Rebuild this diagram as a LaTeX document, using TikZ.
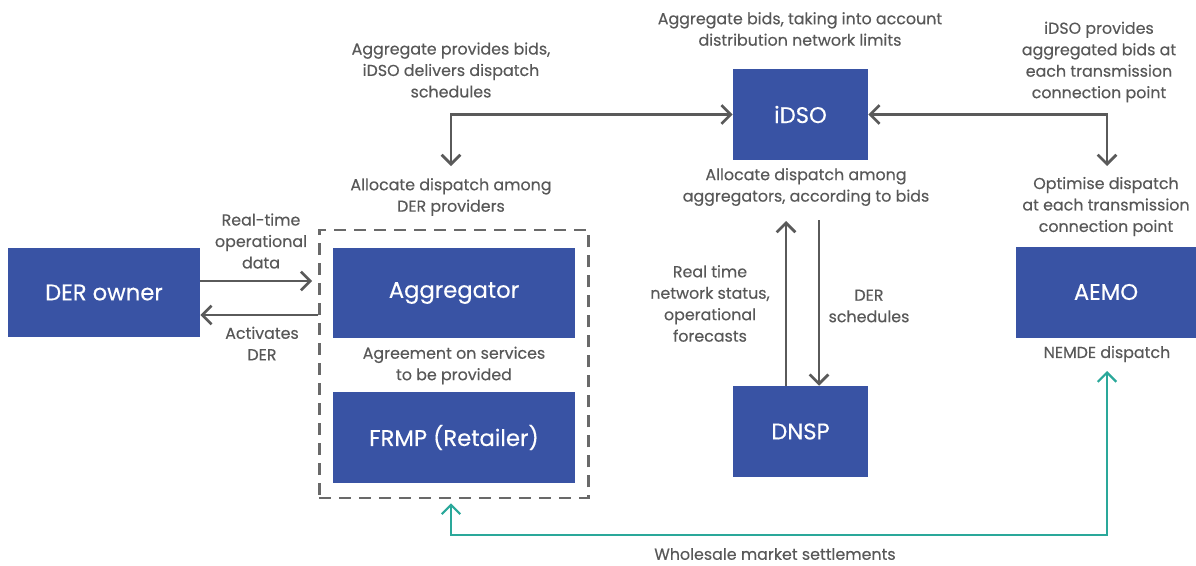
\documentclass[tikz,border=0pt]{standalone}
\usepackage{fontspec}
\setmainfont{Poppins}
\newfontfamily\lblfont[FakeBold=0.35]{Poppins}
\usetikzlibrary{arrows.meta,calc}
\definecolor{boxblue}{RGB}{57,83,164}
\definecolor{txtgray}{RGB}{88,88,88}
\definecolor{linegray}{RGB}{90,90,90}
\definecolor{dashgray}{RGB}{105,105,105}
\definecolor{tealc}{RGB}{42,168,154}
\begin{document}
\begin{tikzpicture}[x=0.75pt,y=-0.75pt,
  box/.style={fill=boxblue,draw=none,text=white,inner sep=0pt,
    font=\lblfont\fontsize{17}{20}\selectfont},
  lbl/.style={text=txtgray,align=center,inner sep=0pt,
    font=\lblfont\fontsize{11.9}{16.1}\selectfont},
  arr/.style={draw=linegray,line width=2pt,
    arrows={-Straight Barb[length=7pt,width=14pt,line width=2pt]}},
  arrboth/.style={draw=linegray,line width=2pt,
    arrows={Straight Barb[length=7pt,width=14pt,line width=2pt]-Straight Barb[length=7pt,width=14pt,line width=2pt]}},
  tealarr/.style={draw=tealc,line width=1.6pt,
    arrows={Straight Barb[length=7pt,width=14pt,line width=1.6pt]-Straight Barb[length=7pt,width=14pt,line width=1.6pt]}},
  grpbox/.style={draw=dashgray,line width=1.9pt,dash pattern=on 9pt off 6pt,inner sep=0pt}
]
\useasboundingbox (0,0) rectangle (1196,565);

% boxes
\node[grpbox,minimum width=202pt,minimum height=201pt] (grp) at (454,364) {};
\node[box,minimum width=144pt,minimum height=66.75pt] (derowner) at (104,292.5) {DER owner};
\node[box,minimum width=181.5pt,minimum height=67.5pt] (agg) at (454,293) {Aggregator};
\node[box,minimum width=181.5pt,minimum height=68.25pt] (frmp) at (454,437.5) {FRMP (Retailer)};
\node[box,minimum width=101.25pt,minimum height=68.25pt] (idso) at (800.5,114.5) {iDSO};
\node[box,minimum width=101.25pt,minimum height=68.25pt] (dnsp) at (800.5,431.5) {DNSP};
\node[box,minimum width=135pt,minimum height=68.25pt] (aemo) at (1106,292) {AEMO};

% labels
\node[lbl] (lRT) at (261,241) {Real-time\\operational\\data};
\node[lbl] (lAct) at (262,343.5) {Activates\\DER};
\node[lbl] (lAgree) at (454,365.5) {Agreement on services\\to be provided};
\node[lbl] (lAggProv) at (451,70) {Aggregate provides bids,\\iDSO delivers dispatch\\schedules};
\node[lbl] (lAllocDER) at (451,197) {Allocate dispatch among\\DER providers};
\node[lbl] (lAggBids) at (800,29) {Aggregate bids, taking into account\\distribution network limits};
\node[lbl] (lAllocAgg) at (806,187) {Allocate dispatch among\\aggregators, according to bids};
\node[lbl] (lRealNet) at (710,303.5) {Real time\\network status,\\operational\\forecasts};
\node[lbl] (lDERs) at (869,306) {DER\\schedules};
\node[lbl] (lIdsoProv) at (1099,62) {iDSO provides\\aggregated bids at\\each transmission\\connection point};
\node[lbl] (lOpt) at (1106,206.5) {Optimise dispatch\\at each transmission\\connection point};
\node[lbl] (lNemde) at (1107,354) {NEMDE dispatch};
\node[lbl] (lWhole) at (775,554) {Wholesale market settlements};

% free-end coordinates
\coordinate (tipAllocDER) at (451,166);
\coordinate (tipOpt) at (1107,166);
\coordinate (tipUp) at (786,221);
\coordinate (startDown) at (819,220);
\coordinate (tealLow) at (780,535);
\coordinate (tipNemde) at (1107,371);

% connectors
\draw[arr,shorten >=4.5pt] (derowner.east |- 0,281) -- (grp.west |- 0,281);
\draw[arr] (grp.west |- 0,315) -- (derowner.east |- 0,315);
\draw[arrboth] (tipAllocDER) |- (idso.west);
\draw[arrboth] (tipOpt) |- (idso.east);
\draw[arr] (dnsp.north -| tipUp) -- (tipUp);
\draw[arr] (startDown) -- (dnsp.north -| startDown);
\draw[tealarr,shorten <=3pt] (grp.south -| tipAllocDER) |- (tealLow) -| (tipNemde);
\end{tikzpicture}
\end{document}
